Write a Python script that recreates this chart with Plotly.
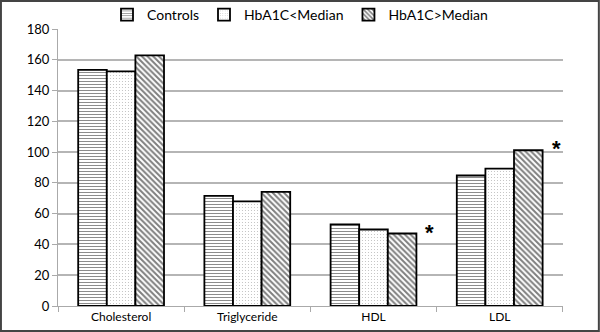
import plotly.graph_objects as go

# Lipid profile by group
categories = ["Cholesterol", "Triglyceride", "HDL", "LDL"]
controls = [153.5, 71.5, 53, 84.8]
below_median = [152.4, 68, 49.7, 89.3]
above_median = [162.8, 74.2, 47.1, 101.2]

series_names = ["Controls", "HbA1C<Median", "HbA1C>Median"]
y_ticks = [0, 20, 40, 60, 80, 100, 120, 140, 160, 180]

# significance markers: category position and height
star_x = [2.44, 3.45]
star_y = [47.5, 102.5]

FONT = "Lato, 'Open Sans', sans-serif"

fig = go.Figure()
patterns = [
    dict(shape="-", size=3, solidity=0.3, fgcolor="black", bgcolor="white"),
    dict(shape=".", size=3, solidity=0.12, fgcolor="#777777", bgcolor="white"),
    dict(shape="\\", size=4, solidity=0.5, fgcolor="black", bgcolor="white"),
]
for name, vals, pat in zip(series_names, [controls, below_median, above_median], patterns):
    fig.add_trace(go.Bar(
        name=name, x=categories, y=vals,
        marker=dict(color="white", pattern=pat, line=dict(color="black", width=1.8)),
    ))

for sx, sy in zip(star_x, star_y):
    fig.add_annotation(x=sx, y=sy, xref="x", yref="y", text="<b>*</b>",
                       showarrow=False, font=dict(size=22, color="black", family="Arial"))

# outer frame
fig.add_shape(type="rect", xref="paper", yref="paper", x0=-0.113, x1=1.071, y0=-0.090, y1=1.101,
              line=dict(color="#444444", width=2), layer="above")

fig.update_layout(
    width=600, height=332,
    margin=dict(l=58, r=37, t=29, b=26, autoexpand=False),
    paper_bgcolor="white", plot_bgcolor="white",
    barmode="group", bargap=0.32, bargroupgap=0,
    font=dict(family=FONT, size=12, color="black"),
    showlegend=True,
    legend=dict(orientation="h", x=0.5, xanchor="center", xref="container",
                y=0.955, yanchor="middle", yref="container",
                font=dict(size=14), itemwidth=30, traceorder="normal",
                bgcolor="rgba(0,0,0,0)"),
    xaxis=dict(showline=True, linecolor="#aaaaaa", linewidth=1, ticks="outside",
               tickson="boundaries", ticklen=5, tickcolor="#aaaaaa", showgrid=False,
               tickfont=dict(size=12)),
    yaxis=dict(range=[0, 180], tickvals=y_ticks, showline=True, linecolor="#aaaaaa",
               linewidth=1, ticks="outside", ticklen=5, tickcolor="#aaaaaa",
               showgrid=True, gridcolor="#b5b5b5", gridwidth=1.5, zeroline=False,
               tickfont=dict(size=13)),
)

fig.write_html("out.html")
